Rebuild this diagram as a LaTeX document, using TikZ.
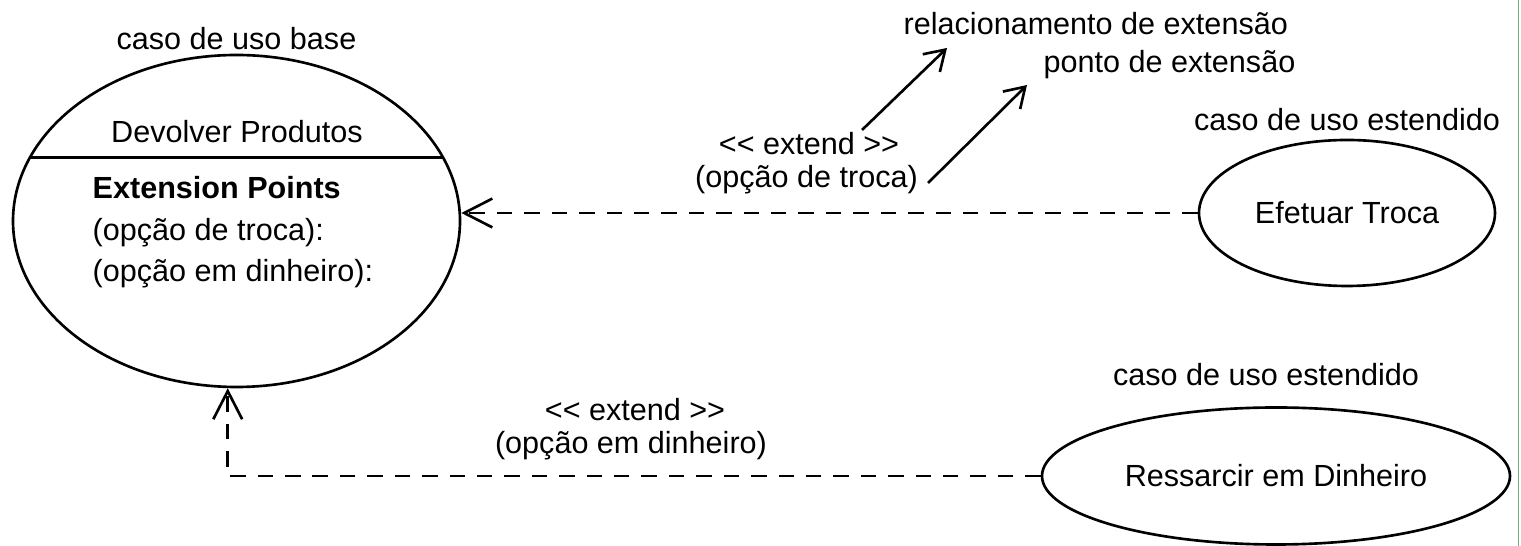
\documentclass[tikz,border=0pt]{standalone}
\usepackage{fontspec}
\setmainfont{Liberation Sans}
\usetikzlibrary{shapes.geometric, arrows.meta, positioning}
\definecolor{frameGreen}{HTML}{6FAA82}

\begin{document}
\begin{tikzpicture}[auto,
    font=\fontsize{8.7}{10.8}\selectfont,
    usecase/.style={ellipse, draw, line width=0.75pt, inner sep=0pt},
    note/.style={inner sep=0pt},
    extend/.style={draw, line width=0.75pt, dash pattern=on 4.4pt off 3.4pt, -{Straight Barb[length=8pt, width=8.2pt]}},
    pointer/.style={draw, line width=0.75pt, -{Straight Barb[length=5.5pt, width=7pt]}}
  ]
  \useasboundingbox (0,0) rectangle (15.21,5.46);

  % caso de uso base
  \node (base) at (2.365,3.25) [usecase, minimum width=4.47cm, minimum height=3.32cm] {};
  \node (baselbl) [above=-2.3pt of base] {caso de uso base};
  \node (basename) at (2.37,4.14) {Devolver Produtos};
  \draw [line width=0.75pt] (base.163) -- (base.17);
  \node (ephead) at (0.92,3.47) [note, anchor=base west] {\textbf{Extension Points}};
  \node (ep1) at (0.92,3.05) [note, anchor=base west] {(opção de troca):};
  \node (ep2) at (0.92,2.64) [note, anchor=base west] {(opção em dinheiro):};

  % casos de uso estendidos
  \node (troca) at (13.47,3.33) [usecase, minimum width=2.96cm, minimum height=1.46cm] {Efetuar Troca};
  \node (trocalbl) [above=-1.4pt of troca] {caso de uso estendido};
  \node (dinheiro) at (12.76,0.70) [usecase, minimum width=4.68cm, minimum height=1.37cm] {Ressarcir em Dinheiro};
  \node (dinheirolbl) [above=2.2pt of dinheiro, xshift=-1mm] {caso de uso estendido};

  % rotulos
  \node (ext1) at (8.09,3.91) [anchor=base] {<{}< extend >{}>};
  \node (ext1b) at (8.065,3.58) [anchor=base] {(opção de troca)};
  \node (ext2) at (6.35,1.25) [anchor=base] {<{}< extend >{}>};
  \node (ext2b) at (6.31,0.92) [anchor=base] {(opção em dinheiro)};
  \node (relac) at (9.03,5.11) [note, anchor=base west] {relacionamento de extensão};
  \node (ponto) at (10.43,4.73) [note, anchor=base west] {ponto de extensão};
  \coordinate (relacfrom) at (8.62,4.16);
  \coordinate (relacto) at (9.47,4.98);
  \coordinate (pontofrom) at (9.28,3.63);
  \coordinate (pontoto) at (10.27,4.61);

  \draw [extend] (troca.west) -- (troca.west -| base.east);
  \draw [extend] (dinheiro.west) -| (base.267);
  \draw [pointer] (relacfrom) -- (relacto);
  \draw [pointer] (pontofrom) -- (pontoto);

  \draw [frameGreen, line width=0.4pt] (15.185,0) -- (15.185,5.46);
\end{tikzpicture}
\end{document}
